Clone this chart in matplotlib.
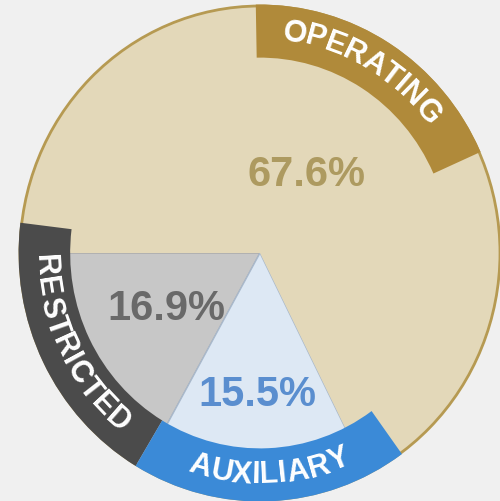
import numpy as np
import matplotlib.pyplot as plt
from matplotlib.patches import Wedge, Circle
from matplotlib.textpath import TextToPath
from matplotlib.font_manager import FontProperties

# data (order = drawing order from 180 deg, ccw)
labels = ["RESTRICTED", "AUXILIARY", "OPERATING"]
shares = [16.9, 15.5, 67.6]
pct_text = ["16.9%", "15.5%", "67.6%"]

fill_colors = ["#c7c7c7", "#dde8f4", "#e3d8b9"]
edge_colors = ["#a8a8a8", "#a9b9cc", "none"]
band_colors = ["#4b4b4b", "#3b8ad7", "#b08a3a"]
pct_colors = ["#696969", "#5a8ecf", "#ad9a60"]

# outer band spans (deg), text direction / centre angle, label distances
band_spans = [(173, 239), (239, 306), (24, 91)]
band_ccw = [True, True, False]
text_mid = [206, 272.5, 60]
pct_dist = [0.45, 0.575, 0.37]

BG = "#f0f0f0"
fig = plt.figure(figsize=(5, 5.01), dpi=100, facecolor=BG)
ax = fig.add_axes([0, 0, 1, 1])
ax.set_facecolor(BG)

wedges, _ = ax.pie(shares, startangle=180, counterclock=True,
                   colors=fill_colors, radius=1,
                   wedgeprops=dict(linewidth=1.0))
for w, ec in zip(wedges, edge_colors):
    w.set_edgecolor(ec)

# thin gold rim
ax.add_patch(Circle((0, 0), 1.0, fill=False, ec="#b69a52", lw=2.0, zorder=3))

# label bands
for (t1, t2), c in zip(band_spans, band_colors):
    ax.add_patch(Wedge((0, 0), 1.006, t1, t2, width=0.215, fc=c, ec="none", zorder=4))

ttp = TextToPath()
fp = FontProperties(family="Liberation Sans", weight="bold", size=22)
PX = 100 / 72
R_PX = 243


def arc_text(s, mid, r, ccw):
    widths = [ttp.get_text_width_height_descent(ch, fp, ismath=False)[0] * PX for ch in s]
    total = sum(widths)
    span = np.degrees(total / (r * R_PX))
    sgn = 1 if ccw else -1
    start = mid - sgn * span / 2
    pos = 0.0
    for ch, wd in zip(s, widths):
        a = start + sgn * np.degrees((pos + wd / 2) / (r * R_PX))
        pos += wd
        t = np.radians(a)
        rot = a + 90 if ccw else a - 90
        ax.text(r * np.cos(t), r * np.sin(t), ch, rotation=rot,
                rotation_mode="anchor", ha="center", va="center",
                fontproperties=fp, color="white", zorder=5)


for lab, mid, ccw in zip(labels, text_mid, band_ccw):
    arc_text(lab, mid, 0.9, ccw)

for w, txt, d, c in zip(wedges, pct_text, pct_dist, pct_colors):
    mid = np.radians((w.theta1 + w.theta2) / 2)
    ax.text(d * np.cos(mid), d * np.sin(mid), txt, ha="center", va="center",
            fontsize=30, fontweight="bold", family="Liberation Sans",
            color=c, zorder=5)

# slightly taller than wide, as in the picture
ax.set_aspect("auto")
ax.set_xlim(-260 / 240, 240 / 240)
ax.set_ylim(-248 / 247, 253 / 247)
ax.axis("off")

fig.savefig("out.png", dpi=100, facecolor=BG)
